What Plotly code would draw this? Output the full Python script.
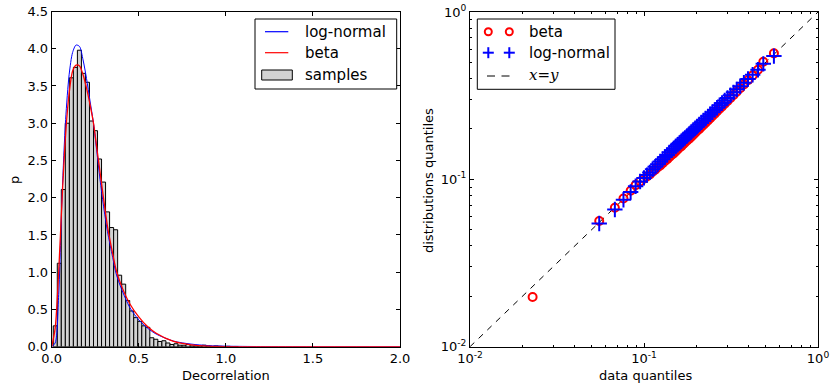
import numpy as np
import plotly.graph_objects as go

# ---------------- data ----------------
# histogram (left panel): bin start, bin width, bar heights
bin_start = 0.009
bin_width = 0.0231
hist_heights = [0.28, 1.12, 2.11, 3.00, 3.61, 3.75, 3.98, 3.67, 3.55, 3.03,
                2.90, 2.52, 2.21, 1.81, 1.60, 1.57, 0.96, 0.84, 0.62, 0.48,
                0.39, 0.34, 0.28, 0.26, 0.12, 0.10, 0.07, 0.08, 0.05, 0.03,
                0.04, 0.02, 0.02, 0.03, 0.01, 0.01, 0.01, 0.02, 0.01, 0.0,
                0.01, 0.005, 0.0, 0.005, 0.0, 0.003]

# fitted pdf curves
curve_x = [0.0, 0.02, 0.04, 0.06, 0.08, 0.10, 0.12, 0.14, 0.16, 0.18, 0.20,
           0.22, 0.24, 0.26, 0.28, 0.30, 0.32, 0.35, 0.37, 0.40, 0.45, 0.50,
           0.55, 0.60, 0.70, 0.80, 0.90, 1.00, 1.20, 1.50, 2.00]
lognormal_pdf = [0.0, 0.05, 0.70, 2.05, 3.05, 3.65, 3.95, 4.05, 4.03, 3.85, 3.60,
                 3.30, 3.00, 2.60, 2.20, 1.85, 1.55, 1.20, 0.98, 0.78, 0.52, 0.36,
                 0.25, 0.17, 0.075, 0.035, 0.015, 0.007, 0.002, 0.0, 0.0]
beta_pdf = [0.0, 0.25, 1.00, 2.00, 2.85, 3.40, 3.70, 3.78, 3.77, 3.65, 3.47,
            3.25, 3.00, 2.65, 2.30, 1.95, 1.62, 1.25, 1.03, 0.82, 0.57, 0.40,
            0.27, 0.18, 0.07, 0.025, 0.008, 0.002, 0.0, 0.0, 0.0]

# QQ plot (right panel)
data_q = [0.0553, 0.068, 0.0762, 0.0838, 0.0895, 0.095, 0.100, 0.104, 0.108, 0.112,
          0.116, 0.120, 0.124, 0.128, 0.132, 0.136, 0.140, 0.144, 0.148, 0.152,
          0.156, 0.160, 0.164, 0.168, 0.172, 0.177, 0.182, 0.187, 0.192, 0.197,
          0.202, 0.208, 0.214, 0.220, 0.226, 0.233, 0.240, 0.247, 0.255, 0.263,
          0.272, 0.281, 0.291, 0.302, 0.314, 0.327, 0.341, 0.357, 0.375, 0.396,
          0.421, 0.452, 0.485, 0.558]
beta_q = [0.0564, 0.0677, 0.0769, 0.0854, 0.0924, 0.097, 0.101, 0.104, 0.107, 0.111,
          0.114, 0.118, 0.121, 0.125, 0.129, 0.132, 0.136, 0.140, 0.143, 0.147,
          0.151, 0.155, 0.158, 0.162, 0.166, 0.171, 0.175, 0.180, 0.185, 0.190,
          0.195, 0.200, 0.206, 0.212, 0.218, 0.225, 0.232, 0.239, 0.247, 0.255,
          0.264, 0.273, 0.283, 0.294, 0.306, 0.319, 0.334, 0.350, 0.369, 0.391,
          0.418, 0.452, 0.504, 0.566]
lognormal_q = [0.0545, 0.066, 0.0755, 0.084, 0.091, 0.097, 0.102, 0.106, 0.110, 0.115,
               0.119, 0.123, 0.128, 0.132, 0.136, 0.140, 0.145, 0.149, 0.153, 0.157,
               0.161, 0.165, 0.169, 0.173, 0.177, 0.182, 0.187, 0.192, 0.197, 0.202,
               0.207, 0.213, 0.219, 0.225, 0.231, 0.238, 0.245, 0.252, 0.260, 0.268,
               0.277, 0.286, 0.296, 0.306, 0.318, 0.331, 0.345, 0.360, 0.378, 0.398,
               0.422, 0.452, 0.490, 0.545]
# single low outlier of the beta series
beta_low_x = [0.0229]
beta_low_y = [0.0198]
diag = [0.01, 1.0]

x_ticks_left = [0.0, 0.5, 1.0, 1.5, 2.0]
y_ticks_left = [0.0, 0.5, 1.0, 1.5, 2.0, 2.5, 3.0, 3.5, 4.0, 4.5]
log_ticks = [0.01, 0.1, 1.0]
log_ticktext = ["10<sup>-2</sup>", "10<sup>-1</sup>", "10<sup>0</sup>"]
log_minor_ticks = [0.02, 0.03, 0.04, 0.05, 0.06, 0.07, 0.08, 0.09,
                   0.2, 0.3, 0.4, 0.5, 0.6, 0.7, 0.8, 0.9]

# ---------------- figure ----------------
W, H = 831, 389
FONT = "DejaVu Sans"
TICK_SIZE = 13
TITLE_SIZE = 13
LEG_SIZE = 15


def px(x):
    return x / W


def py(y):
    return 1 - y / H


bin_centers = [bin_start + bin_width * (i + 0.5) for i in range(len(hist_heights))]

fig = go.Figure()
fig.add_trace(go.Bar(x=bin_centers, y=hist_heights, width=bin_width,
                     marker=dict(color="#d3d3d3", line=dict(color="black", width=1)),
                     xaxis="x", yaxis="y", showlegend=False, name="samples"))
fig.add_trace(go.Scatter(x=curve_x, y=lognormal_pdf, mode="lines", name="log-normal",
                         line=dict(color="blue", width=1, shape="spline", smoothing=0.8),
                         xaxis="x", yaxis="y", showlegend=False))
fig.add_trace(go.Scatter(x=curve_x, y=beta_pdf, mode="lines", name="beta",
                         line=dict(color="red", width=1.3, shape="spline", smoothing=0.8),
                         xaxis="x", yaxis="y", showlegend=False))

fig.add_trace(go.Scatter(x=diag, y=diag, mode="lines", name="x=y",
                         line=dict(color="black", width=1, dash="6px,6px"),
                         xaxis="x2", yaxis="y2", showlegend=False))
fig.add_trace(go.Scatter(x=beta_low_x + data_q, y=beta_low_y + beta_q, mode="markers",
                         name="beta",
                         marker=dict(symbol="circle-open", size=8, color="red",
                                     line=dict(color="red", width=2)),
                         xaxis="x2", yaxis="y2", showlegend=False))
fig.add_trace(go.Scatter(x=data_q, y=lognormal_q, mode="markers", name="log-normal",
                         marker=dict(symbol="cross-thin", size=11, color="blue",
                                     line=dict(color="blue", width=2)),
                         xaxis="x2", yaxis="y2", showlegend=False))

axis_common = dict(showline=True, linecolor="black", linewidth=1, mirror="allticks",
                   ticks="inside", ticklen=4, tickcolor="black", tickwidth=1,
                   showgrid=False, zeroline=False, automargin=False,
                   tickfont=dict(family=FONT, size=TICK_SIZE, color="black"))
minor_log = dict(ticks="inside", ticklen=2, tickcolor="black", showgrid=False,
                 tickvals=log_minor_ticks)

fig.update_layout(
    width=W, height=H,
    margin=dict(l=0, r=0, t=0, b=0),
    paper_bgcolor="white", plot_bgcolor="white",
    font=dict(family=FONT, size=TITLE_SIZE, color="black"),
    bargap=0,
    hovermode=False,
    xaxis=dict(domain=[px(51.7), px(400)], range=[0, 2], anchor="y",
               tickvals=x_ticks_left, ticktext=[f"{v:.1f}" for v in x_ticks_left],
               **axis_common),
    yaxis=dict(domain=[py(346.7), py(11.5)], range=[0, 4.5], anchor="x",
               tickvals=y_ticks_left, ticktext=[f"{v:.1f}" for v in y_ticks_left],
               **axis_common),
    xaxis2=dict(domain=[px(470), px(818)], type="log", range=[-2, 0], anchor="y2",
                tickvals=log_ticks, ticktext=log_ticktext, minor=minor_log,
                **axis_common),
    yaxis2=dict(domain=[py(346.7), py(12)], type="log", range=[-2, 0], anchor="x2",
                tickvals=log_ticks, ticktext=log_ticktext, minor=minor_log,
                **axis_common),
    showlegend=False,
)

shapes = []
annotations = []

# axis titles
annotations += [
    dict(text="p", x=px(14), y=py(180), textangle=-90),
    dict(text="Decorrelation", x=px(225.5), y=py(375)),
    dict(text="distributions quantiles", x=px(428), y=py(181), textangle=-90),
    dict(text="data quantiles", x=px(645), y=py(375)),
]

# left legend
shapes.append(dict(type="rect", xref="paper", yref="paper",
                   x0=px(255), x1=px(396.7), y0=py(89), y1=py(19),
                   line=dict(color="black", width=1), fillcolor="white"))
shapes.append(dict(type="line", xref="paper", yref="paper",
                   x0=px(265), x1=px(288.3), y0=py(31.7), y1=py(31.7),
                   line=dict(color="blue", width=1.2)))
shapes.append(dict(type="line", xref="paper", yref="paper",
                   x0=px(265), x1=px(288.3), y0=py(52.7), y1=py(52.7),
                   line=dict(color="red", width=1.2)))
shapes.append(dict(type="rect", xref="paper", yref="paper",
                   x0=px(261.7), x1=px(292.3), y0=py(80), y1=py(70),
                   line=dict(color="black", width=1), fillcolor="#d3d3d3"))
for t, yy in [("log-normal", 31.7), ("beta", 52.7), ("samples", 75.3)]:
    annotations.append(dict(text=t, x=px(303), y=py(yy), xanchor="left",
                            font=dict(size=LEG_SIZE)))

# right legend
shapes.append(dict(type="rect", xref="paper", yref="paper",
                   x0=px(477.3), x1=px(615), y0=py(89.3), y1=py(19),
                   line=dict(color="black", width=1), fillcolor="white"))
for cx in (488.3, 509.3):
    shapes.append(dict(type="circle", xref="paper", yref="paper",
                       x0=px(cx - 3.5), x1=px(cx + 3.5), y0=py(31.7 + 3.5), y1=py(31.7 - 3.5),
                       line=dict(color="red", width=2)))
    shapes.append(dict(type="line", xref="paper", yref="paper",
                       x0=px(cx - 5.5), x1=px(cx + 5.5), y0=py(52.7), y1=py(52.7),
                       line=dict(color="blue", width=2)))
    shapes.append(dict(type="line", xref="paper", yref="paper",
                       x0=px(cx), x1=px(cx), y0=py(52.7 - 5.5), y1=py(52.7 + 5.5),
                       line=dict(color="blue", width=2)))
shapes.append(dict(type="line", xref="paper", yref="paper",
                   x0=px(487), x1=px(495), y0=py(76), y1=py(76),
                   line=dict(color="black", width=1)))
shapes.append(dict(type="line", xref="paper", yref="paper",
                   x0=px(501.5), x1=px(509.5), y0=py(76), y1=py(76),
                   line=dict(color="black", width=1)))
annotations.append(dict(text="beta", x=px(526.5), y=py(31.7), xanchor="left",
                        font=dict(size=LEG_SIZE)))
annotations.append(dict(text="log-normal", x=px(526.5), y=py(52.7), xanchor="left",
                        font=dict(size=LEG_SIZE)))
annotations.append(dict(text="<i>x</i>=<i>y</i>", x=px(526.5), y=py(75.5), xanchor="left",
                        font=dict(size=LEG_SIZE, family="DejaVu Serif")))

for a in annotations:
    a.setdefault("xref", "paper")
    a.setdefault("yref", "paper")
    a.setdefault("showarrow", False)
    a.setdefault("xanchor", "center")
    a.setdefault("yanchor", "middle")

fig.update_layout(shapes=shapes, annotations=annotations)
# remove the browser's default 8px body margin so the figure sits at the page origin
fig.write_html("out.html", config={"displayModeBar": False, "staticPlot": True},
               post_script="document.body.style.margin='0px';document.body.style.overflow='hidden';")
